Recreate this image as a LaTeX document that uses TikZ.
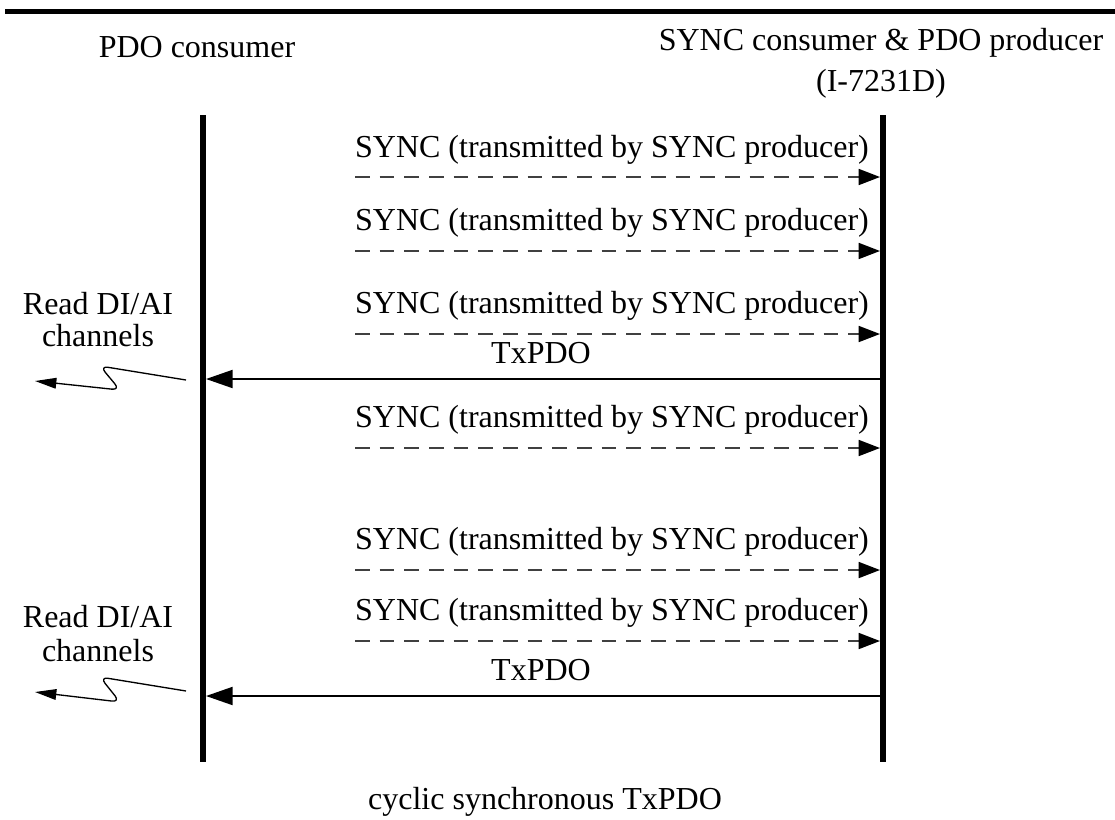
\documentclass[tikz,border=0pt]{standalone}
\usepackage{fontspec}
\setmainfont{Liberation Serif}
\usepackage{tikz}
\usetikzlibrary{arrows.meta}

\begin{document}
\begin{tikzpicture}[x=0.75pt, y=-0.75pt,
  every node/.style={font=\fontsize{24}{28}\selectfont, inner sep=0pt},
  lifeline/.style={line width=4.5pt},
  syncmsg/.style={black!75, line width=1.3pt, dash pattern=on 11pt off 7.5pt,
    -{Triangle[length=16pt, width=12pt, black]}},
  pdomsg/.style={line width=1.5pt, -{Triangle[length=20pt, width=13.5pt]}},
  squig/.style={line width=1pt, rounded corners=6pt, -{Triangle[length=16pt, width=8pt]}}]
  \useasboundingbox (0,0) rectangle (1115,819);
  \fill (5,9) rectangle (1115,14);
  % Lifelines
  \node (pdocons) at (197,47) {PDO consumer};
  \node[align=center] (syncprod) at (881,63) {SYNC consumer \& PDO producer\\[3pt](I-7231D)};
  \coordinate (ltop) at (203,115);
  \coordinate (lbot) at (203,762);
  \coordinate (rtop) at (883,115);
  \coordinate (rbot) at (883,762);
  \draw[lifeline] (ltop) -- (lbot);
  \draw[lifeline] (rtop) -- (rbot);
  % SYNC messages
  \coordinate (s1) at (355,177);
  \coordinate (s2) at (355,251);
  \coordinate (s3) at (355,334);
  \coordinate (s4) at (355,448);
  \coordinate (s5) at (355,570);
  \coordinate (s6) at (355,641);
  \draw[syncmsg] (s1) -- ([xshift=-2.25pt]s1 -| rtop);
  \draw[syncmsg] (s2) -- ([xshift=-2.25pt]s2 -| rtop);
  \draw[syncmsg] (s3) -- ([xshift=-2.25pt]s3 -| rtop);
  \draw[syncmsg] (s4) -- ([xshift=-2.25pt]s4 -| rtop);
  \draw[syncmsg] (s5) -- ([xshift=-2.25pt]s5 -| rtop);
  \draw[syncmsg] (s6) -- ([xshift=-2.25pt]s6 -| rtop);
  \node[anchor=base] (sync1) at (612,157) {SYNC (transmitted by SYNC producer)};
  \node[anchor=base] (sync2) at (612,230) {SYNC (transmitted by SYNC producer)};
  \node[anchor=base] (sync3) at (612,313) {SYNC (transmitted by SYNC producer)};
  \node[anchor=base] (sync4) at (612,427) {SYNC (transmitted by SYNC producer)};
  \node[anchor=base] (sync5) at (612,549) {SYNC (transmitted by SYNC producer)};
  \node[anchor=base] (sync6) at (612,620) {SYNC (transmitted by SYNC producer)};
  % TxPDO messages
  \coordinate (t1) at (883,379);
  \coordinate (t2) at (883,696);
  \draw[pdomsg] (t1) -- ([xshift=2.25pt]t1 -| ltop);
  \draw[pdomsg] (t2) -- ([xshift=2.25pt]t2 -| ltop);
  \node[anchor=base] (txpdo1) at (541,363) {TxPDO};
  \node[anchor=base] (txpdo2) at (541,680) {TxPDO};
  % Read channels
  \node[anchor=base] (read1) at (98,314) {Read DI/AI};
  \node[anchor=base] (chan1) at (98,346) {channels};
  \node[anchor=base] (read2) at (98,627) {Read DI/AI};
  \node[anchor=base] (chan2) at (98,661) {channels};
  \coordinate (r1s) at (186,380);
  \coordinate (r1e) at (35,381);
  \coordinate (r2s) at (186,691);
  \coordinate (r2e) at (35,692);
  \draw[squig] (r1s) -- (100,366) -- (120,390) -- (r1e);
  \draw[squig] (r2s) -- (100,677) -- (120,702) -- (r2e);
  \node[anchor=base] (cyclic) at (545,809) {cyclic synchronous TxPDO};
\end{tikzpicture}
\end{document}
